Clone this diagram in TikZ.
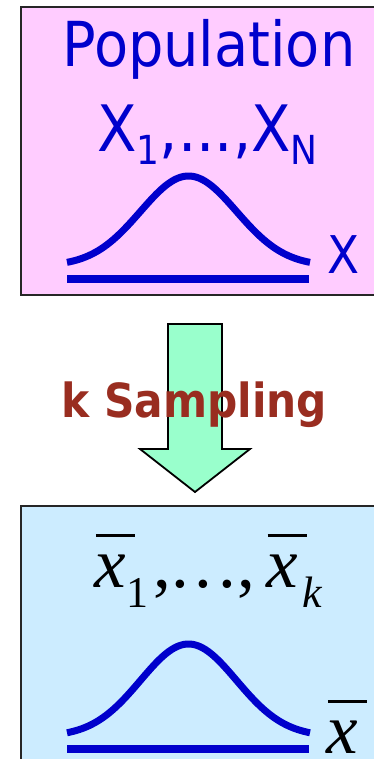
\documentclass[tikz,border=0pt]{standalone}
\usepackage{amsmath}
\usepackage{fontspec}
\setsansfont{DejaVu Sans Condensed}
\newfontfamily\tnr{Liberation Serif}
\usepackage{xcolor}
\usepackage{tikz}
\usetikzlibrary{positioning, calc}
\definecolor{popblue}{RGB}{0, 0, 204}
\definecolor{poppink}{RGB}{255, 204, 255}
\definecolor{sampsky}{RGB}{204, 236, 255}
\definecolor{arrowmint}{RGB}{153, 255, 204}
\definecolor{samprust}{RGB}{153, 45, 32}

% subscripts and barred letters
\newcommand{\popsub}[1]{\raisebox{-6.5pt}{\fontsize{20}{20}\selectfont #1}}
\newcommand{\sampsub}[1]{\raisebox{-10pt}{\fontsize{22}{22}\selectfont #1}}
\newcommand{\barx}{\makebox[0pt][l]{\hspace{0.5pt}\rule[25.2pt]{19.5pt}{1.5pt}}\textit{x}}

\begin{document}
\begin{tikzpicture}[x=0.5pt, y=-0.5pt,
    boxframe/.style={draw=black!85, line width=1pt},
    bell/.style={popblue, line width=3.5pt},
    axisbar/.style={popblue, line width=4pt},
    poptext/.style={inner sep=0pt, anchor=base, text=popblue, font=\sffamily},
    samptext/.style={inner sep=0pt, anchor=base west, text=black, font=\tnr\fontsize{35.5}{35.5}\selectfont}]
    \clip (0,0) rectangle (374,759);

    % Population box and sample box
    \filldraw[boxframe, fill=poppink] (21,7) rectangle (400,295);
    \filldraw[boxframe, fill=sampsky] (21,506) rectangle (400,800);

    % The two bell curves with their axis bars
    \foreach \base/\amp/\axis in {266/90/279, 736.5/92.5/749} {
        \draw[bell] plot[domain=67:310, samples=80] (\x, {\base - \amp*exp(-((\x-188.5)^2)/4608)});
        \draw[axisbar] (67,\axis) -- (309,\axis);
    }

    % Block arrow between the boxes
    \coordinate (ArrTL) at (168,324);
    \coordinate (ArrTR) at (222,324);
    \coordinate (ArrTip) at (195,492);
    \filldraw[fill=arrowmint, draw=black, line width=0.9pt, line join=miter]
        (ArrTL) -- (ArrTR) -- (222,449) -- (250,449) -- (ArrTip)
        -- (140,449) -- (168,449) -- cycle;

    % Labels
    \node[poptext, font=\sffamily\fontsize{31}{31}\selectfont] (pop) at (209,67) {Population};
    \node[poptext, font=\sffamily\fontsize{32}{32}\selectfont] (popvars) at (207.5,152)
        {X\popsub{1},...,X\popsub{N}};
    \node[poptext, font=\sffamily\fontsize{26}{26}\selectfont] (xlabel) at (344,273) {X};
    \node[inner sep=0pt, anchor=base, text=samprust,
          font=\sffamily\bfseries\fontsize{23.5}{23.5}\selectfont] (samp) at (194.5,417) {k Sampling};
    \node[samptext] (sampvars) at (94.5,587)
        {\barx\sampsub{1}\hspace{2.5pt},.\hspace{2.9pt}.\hspace{2.9pt}.\hspace{1pt},\hspace{5.4pt}\barx\hspace{2pt}\sampsub{\textit{k}}};
    \node[samptext] (xbarlabel) at (326.5,753) {\barx};
\end{tikzpicture}
\end{document}
